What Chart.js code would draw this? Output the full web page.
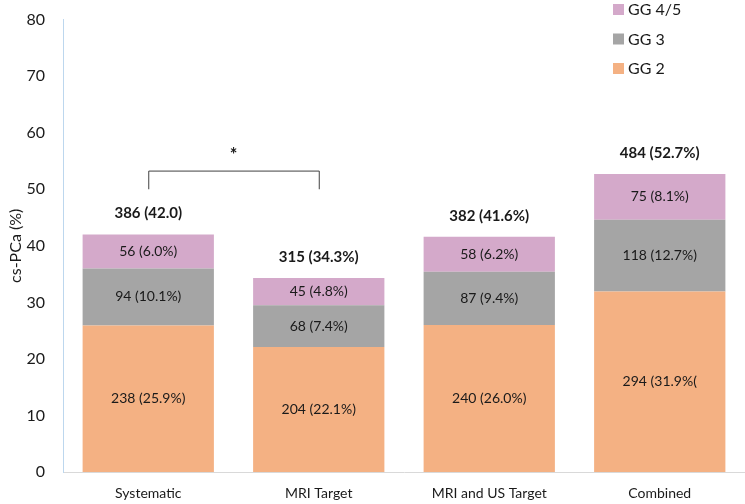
<!DOCTYPE html>
<html lang="en">
<head>
<meta charset="UTF-8">
<title>cs-PCa by biopsy approach</title>
<script src="https://cdn.jsdelivr.net/npm/chart.js"></script>
<style>
  html, body { margin: 0; padding: 0; background: #ffffff; }
  .wrap { position: relative; width: 745px; height: 504px; }
</style>
</head>
<body>
<div class="wrap"><canvas id="chart" width="745" height="504"></canvas></div>
<script>
// categories and series (percent of patients)
const categories = ['Systematic', 'MRI Target', 'MRI and US Target', 'Combined'];
const gg2 = [25.9, 22.1, 26.0, 31.9];
const gg3 = [10.1, 7.4, 9.4, 12.7];
const gg45 = [6.0, 4.8, 6.2, 8.1];

// text shown inside each segment
const gg2Labels = ['238 (25.9%)', '204 (22.1%)', '240 (26.0%)', '294 (31.9%('];
const gg3Labels = ['94 (10.1%)', '68 (7.4%)', '87 (9.4%)', '118 (12.7%)'];
const gg45Labels = ['56 (6.0%)', '45 (4.8%)', '58 (6.2%)', '75 (8.1%)'];
// totals above bars
const totalLabels = ['386 (42.0)', '315 (34.3%)', '382 (41.6%)', '484 (52.7%)'];

// significance bracket between Systematic and MRI Target
const bracketFrom = 0, bracketTo = 1, bracketTop = 53.3, bracketFoot = 50.0, bracketStarY = 56.5;

const FONT = 'Lato, "Open Sans", sans-serif';

const segmentLabels = {
  id: 'segmentLabels',
  afterDatasetsDraw(chart) {
    const { ctx } = chart;
    ctx.save();
    ctx.textAlign = 'center';
    ctx.textBaseline = 'middle';
    ctx.fillStyle = '#1a1a1a';
    ctx.font = '14px ' + FONT;
    chart.data.datasets.forEach((ds, i) => {
      const meta = chart.getDatasetMeta(i);
      meta.data.forEach((bar, j) => {
        ctx.fillText(ds.segLabels[j], bar.x, (bar.y + bar.base) / 2);
      });
    });
    // totals
    const top = chart.getDatasetMeta(chart.data.datasets.length - 1);
    ctx.font = 'bold 15px ' + FONT;
    top.data.forEach((bar, j) => {
      ctx.fillText(totalLabels[j], bar.x, bar.y - 21);
    });
    // bracket
    const xs = chart.scales.x, ys = chart.scales.y;
    const x1 = xs.getPixelForValue(bracketFrom), x2 = xs.getPixelForValue(bracketTo);
    const yT = ys.getPixelForValue(bracketTop), yF = ys.getPixelForValue(bracketFoot);
    ctx.strokeStyle = '#404040';
    ctx.lineWidth = 1;
    ctx.beginPath();
    ctx.moveTo(x1 + 0.5, yF);
    ctx.lineTo(x1 + 0.5, yT + 0.5);
    ctx.lineTo(x2 + 0.5, yT + 0.5);
    ctx.lineTo(x2 + 0.5, yF);
    ctx.stroke();
    ctx.font = 'bold 18px ' + FONT;
    ctx.fillText('*', (x1 + x2) / 2, ys.getPixelForValue(bracketStarY) + 3);
    // legend, top-right, reversed order
    const items = chart.data.datasets.slice().reverse();
    ctx.textAlign = 'left';
    ctx.font = '16px ' + FONT;
    items.forEach((ds, k) => {
      const y = 9 + k * 29.5;
      ctx.fillStyle = ds.backgroundColor;
      ctx.fillRect(613, y - 5, 11, 11);
      ctx.fillStyle = '#1a1a1a';
      ctx.fillText(ds.label, 628, y + 1);
    });
    ctx.restore();
  }
};

new Chart(document.getElementById('chart'), {
  type: 'bar',
  data: {
    labels: categories,
    datasets: [
      { label: 'GG 2', data: gg2, segLabels: gg2Labels, backgroundColor: '#F4B183' },
      { label: 'GG 3', data: gg3, segLabels: gg3Labels, backgroundColor: '#A5A5A5' },
      { label: 'GG 4/5', data: gg45, segLabels: gg45Labels, backgroundColor: '#D4A9CA' }
    ]
  },
  options: {
    responsive: false,
    animation: false,
    layout: { padding: { top: 17, right: 0, left: 6, bottom: 0 } },
    datasets: { bar: { barPercentage: 0.77, categoryPercentage: 1.0 } },
    plugins: {
      legend: { display: false },
      tooltip: { enabled: false }
    },
    scales: {
      x: {
        stacked: true,
        grid: { display: false },
        border: { color: '#D9D9D9' },
        ticks: { color: '#1a1a1a', font: { family: FONT, size: 14 }, padding: 5 },
        afterFit(scale) { scale.height = 32; }
      },
      y: {
        stacked: true,
        min: 0,
        max: 80,
        ticks: { stepSize: 10, color: '#1a1a1a', font: { family: FONT, size: 16 }, padding: 10 },
        grid: { display: false },
        border: { color: '#BDD7EE' },
        title: { display: true, text: 'cs-PCa (%)', color: '#1a1a1a', font: { family: FONT, size: 16 }, padding: 0 },
        afterFit(scale) { scale.width = 57; }
      }
    }
  },
  plugins: [segmentLabels]
});
</script>
</body>
</html>
